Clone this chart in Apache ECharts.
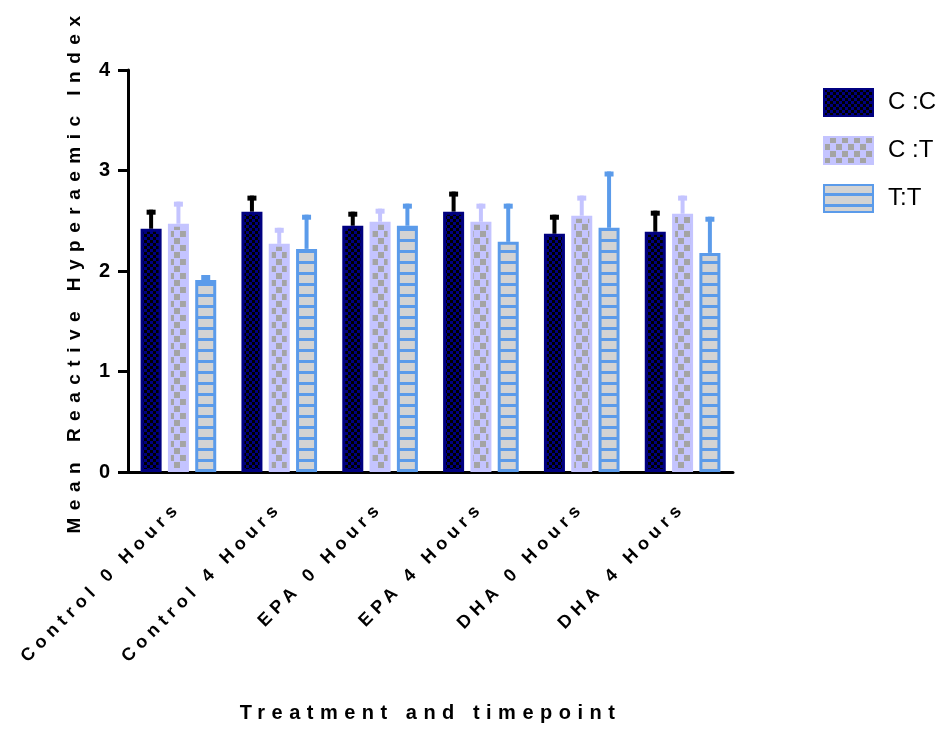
<!DOCTYPE html>
<html>
<head>
<meta charset="utf-8">
<script src="https://cdn.jsdelivr.net/npm/echarts@6/dist/echarts.min.js"></script>
<style>
  html, body { margin: 0; background: #fff; }
  #chart { width: 943px; height: 729px; }
</style>
</head>
<body>
<div id="chart"></div>
<script>
const categories = ['Control 0 Hours', 'Control 4 Hours', 'EPA 0 Hours', 'EPA 4 Hours', 'DHA 0 Hours', 'DHA 4 Hours'];
const seriesNames = ['C :C', 'C :T', 'T:T'];

const ccMean = [2.42, 2.59, 2.45, 2.59, 2.37, 2.39];
const ccErr  = [0.19, 0.16, 0.14, 0.20, 0.19, 0.21];
const ctMean = [2.47, 2.27, 2.49, 2.49, 2.55, 2.57];
const ctErr  = [0.22, 0.16, 0.13, 0.18, 0.20, 0.18];
const ttMean = [1.91, 2.22, 2.45, 2.29, 2.43, 2.18];
const ttErr  = [0.05, 0.34, 0.22, 0.38, 0.56, 0.36];

const yTicks = [0, 1, 2, 3, 4];

const FONT = '"Liberation Sans", Arial, sans-serif';
const CAT_GAP = 0.25, BAR_GAP = 0.3;

// Prism-style spaced lettering: text drawn with weight 800 gets letter spacing by size
const spacingBySize = { '18': 5.5, '19': 7.5, '20': 6.5 };
function applySpacing(ctx) {
  let sp = 0;
  const f = ctx.font;
  if (/\b800\b/.test(f)) {
    const m = f.match(/(\d+(?:\.\d+)?)px/);
    if (m && spacingBySize[m[1]]) sp = spacingBySize[m[1]];
  }
  ctx.letterSpacing = sp + 'px';
}
const proto = CanvasRenderingContext2D.prototype;
['fillText', 'strokeText', 'measureText'].forEach(fn => {
  const orig = proto[fn];
  proto[fn] = function (...args) {
    applySpacing(this);
    return orig.apply(this, args);
  };
});

function makeTile(w, h, bg, fg, rects) {
  const c = document.createElement('canvas');
  c.width = w; c.height = h;
  const g = c.getContext('2d');
  g.fillStyle = bg;
  g.fillRect(0, 0, w, h);
  g.fillStyle = fg;
  rects.forEach(r => g.fillRect(r[0], r[1], r[2], r[3]));
  return c;
}

const tileCC = makeTile(6, 6, '#000080', '#000000', [[0, 0, 3, 3], [3, 3, 3, 3]]);
const tileCT = makeTile(12, 14, '#c4c4ff', '#a4a4a4', [[6, 0, 6, 6], [0, 7, 6, 6]]);
const tileTT = makeTile(4, 11, '#5b9bea', '#d3d3d3', [[0, 0, 4, 8]]);

function barSeries(name, data, tile, border) {
  return {
    name: name,
    type: 'bar',
    data: data,
    barGap: (BAR_GAP * 100) + '%',
    barCategoryGap: (CAT_GAP * 100) + '%',
    z: 2,
    itemStyle: {
      color: { image: tile, repeat: 'repeat' },
      borderColor: border,
      borderWidth: 3
    },
    emphasis: { disabled: true }
  };
}

function errSeries(k, mean, err, color) {
  return {
    type: 'custom',
    z: 1,
    silent: true,
    data: mean.map((m, i) => [i, m, m + err[i]]),
    encode: { x: 0, y: [1, 2] },
    renderItem: (params, api) => {
      const bandW = api.size([1, 0])[0];
      const groupW = bandW * (1 - CAT_GAP);
      const barW = groupW / (3 + 2 * BAR_GAP);
      const base = api.coord([api.value(0), api.value(1)]);
      const top = api.coord([api.value(0), api.value(2)]);
      const x = base[0] - groupW / 2 + k * barW * (1 + BAR_GAP) + barW / 2;
      return {
        type: 'group',
        children: [
          { type: 'rect', shape: { x: x - 2, y: top[1], width: 4, height: base[1] - top[1] }, style: { fill: color } },
          { type: 'rect', shape: { x: x - 4.5, y: top[1], width: 9, height: 5 }, style: { fill: color } }
        ]
      };
    }
  };
}

const chart = echarts.init(document.getElementById('chart'));
chart.setOption({
  animation: false,
  backgroundColor: '#fff',
  grid: { left: 128, right: 210, top: 70, bottom: 257, outerBoundsMode: 'none' },
  legend: {
    data: seriesNames,
    orient: 'vertical',
    left: 818,
    top: 83,
    icon: 'rect',
    itemWidth: 49,
    itemHeight: 27,
    itemGap: 19,
    selectedMode: false,
    textStyle: { fontSize: 24, color: '#000', fontFamily: FONT, padding: [0, 0, 0, 10] }
  },
  xAxis: {
    type: 'category',
    data: categories,
    name: 'Treatment and timepoint',
    nameLocation: 'middle',
    nameGap: 228,
    nameTextStyle: { fontSize: 20, fontWeight: 800, color: '#000', fontFamily: FONT },
    axisLine: { lineStyle: { color: '#000', width: 3 } },
    axisTick: { alignWithLabel: true, length: 10, lineStyle: { color: '#000', width: 3 } },
    axisLabel: { rotate: 45, margin: 33, fontSize: 18, fontWeight: 800, color: '#000', fontFamily: FONT }
  },
  yAxis: {
    type: 'value',
    min: yTicks[0],
    max: yTicks[yTicks.length - 1],
    interval: 1,
    name: 'Mean Reactive Hyperaemic Index',
    nameLocation: 'middle',
    nameGap: 39,
    nameTextStyle: { fontSize: 19, fontWeight: 800, color: '#000', fontFamily: FONT },
    splitLine: { show: false },
    axisLine: { show: true, lineStyle: { color: '#000', width: 3 } },
    axisTick: { show: true, length: 10, lineStyle: { color: '#000', width: 3 } },
    axisLabel: { margin: 18, fontSize: 20, fontWeight: 'bold', color: '#000', fontFamily: FONT }
  },
  series: [
    barSeries(seriesNames[0], ccMean, tileCC, '#000080'),
    barSeries(seriesNames[1], ctMean, tileCT, '#c4c4ff'),
    barSeries(seriesNames[2], ttMean, tileTT, '#5b9bea'),
    errSeries(0, ccMean, ccErr, '#000000'),
    errSeries(1, ctMean, ctErr, '#c4c4ff'),
    errSeries(2, ttMean, ttErr, '#5b9bea')
  ]
});
</script>
</body>
</html>
